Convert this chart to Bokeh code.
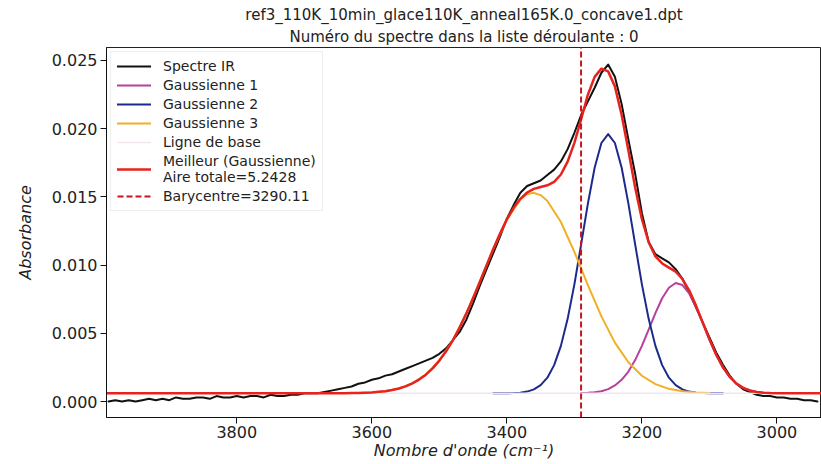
from bokeh.plotting import figure
from bokeh.models import Range1d, FixedTicker, PrintfTickFormatter, Title
from bokeh.embed import file_html
from bokeh.resources import INLINE

# ---- data ----
spec_wn = list(range(3990, 2930, -10))
spec_abs = [0.0000, 0.0001, 0.0000, 0.0001, 0.0000, 0.0001, 0.0002, 0.0001, 0.0002, 0.0001,
            0.0003, 0.0002, 0.0002, 0.0003, 0.0003, 0.0002, 0.0004, 0.0003, 0.0003, 0.0004,
            0.0003, 0.0004, 0.0004, 0.0003, 0.0005, 0.0004, 0.0004, 0.0005, 0.0005, 0.0006,
            0.0006, 0.0006, 0.0007, 0.0008, 0.0009, 0.0010, 0.0011, 0.0013, 0.0014, 0.0016,
            0.0017, 0.0019, 0.0020, 0.0022, 0.0024, 0.0026, 0.0028, 0.0030, 0.0032, 0.0035,
            0.0039, 0.0045, 0.0051, 0.0060, 0.0072, 0.0085, 0.0097, 0.0109, 0.0121, 0.0134,
            0.0144, 0.0153, 0.0158, 0.0160, 0.0162, 0.0166, 0.0170, 0.0176, 0.0185, 0.0197,
            0.0210, 0.0220, 0.0230, 0.0241, 0.0247, 0.0238, 0.0218, 0.0192, 0.0167, 0.0138,
            0.0117, 0.0108, 0.0105, 0.0102, 0.0097, 0.0090, 0.0080, 0.0069, 0.0058, 0.0047,
            0.0036, 0.0027, 0.0019, 0.0013, 0.0009, 0.0007, 0.0005, 0.0004, 0.0004, 0.0003,
            0.0003, 0.0002, 0.0002, 0.0001, 0.0001, 0.0000]

g1_wn = [3290, 3280, 3270, 3260, 3250, 3240, 3230, 3220, 3210, 3200,
         3190, 3180, 3170, 3160, 3150, 3140, 3130, 3120, 3110, 3100,
         3090, 3080, 3070, 3060, 3050, 3040, 3030, 3020, 3010]
g1_abs = [0.00062, 0.00064, 0.00068, 0.00076, 0.00091, 0.00118, 0.00159, 0.00220, 0.00304, 0.00408,
          0.00527, 0.00648, 0.00757, 0.00834, 0.00869, 0.00854, 0.00792, 0.00694, 0.00576, 0.00454,
          0.00343, 0.00251, 0.00181, 0.00132, 0.00100, 0.00081, 0.00070, 0.00065, 0.00062]

g2_wn = [3420, 3400, 3390, 3380, 3370, 3360, 3350, 3340, 3330, 3320, 3310,
         3300, 3290, 3280, 3270, 3260, 3250, 3240, 3230, 3220, 3210,
         3200, 3190, 3180, 3170, 3160, 3150, 3140, 3130, 3120, 3110, 3100, 3080]
g2_abs = [0.00060, 0.00061, 0.00062, 0.00065, 0.00073, 0.00089, 0.00120, 0.00175, 0.00267, 0.00408, 0.00606,
          0.00859, 0.01152, 0.01451, 0.01714, 0.01895, 0.01960, 0.01895, 0.01714, 0.01451, 0.01152,
          0.00859, 0.00606, 0.00408, 0.00267, 0.00175, 0.00120, 0.00089, 0.00073, 0.00065, 0.00062, 0.00061, 0.00060]

g3_wn = [3620, 3600, 3580, 3560, 3540, 3520, 3500, 3480, 3460, 3440,
         3420, 3400, 3380, 3370, 3361, 3350, 3340, 3320, 3300, 3280,
         3260, 3240, 3220, 3200, 3180, 3160, 3140, 3120, 3100]
g3_abs = [0.00063, 0.00067, 0.00076, 0.00096, 0.00133, 0.00197, 0.00300, 0.00449, 0.00646, 0.00878,
          0.01120, 0.01334, 0.01481, 0.01519, 0.01530, 0.01513, 0.01470, 0.01316, 0.01097, 0.00854,
          0.00624, 0.00432, 0.00288, 0.00189, 0.00128, 0.00093, 0.00075, 0.00066, 0.00062]

base_wn = [3993, 2934]
base_abs = [0.0006, 0.0006]

fit_wn = [3993] + list(range(3700, 2990, -10)) + [2934]
fit_abs = [0.00060,
           0.00060, 0.00060, 0.00060, 0.00060, 0.00060, 0.00061, 0.00061, 0.00062, 0.00063, 0.00065,
           0.00067, 0.00071, 0.00076, 0.00084, 0.00096, 0.00111, 0.00133, 0.00161, 0.00197, 0.00243,
           0.00300, 0.00368, 0.00449, 0.00542, 0.00646, 0.00759, 0.00878, 0.01000, 0.01120, 0.01233,
           0.01335, 0.01420, 0.01486, 0.01532, 0.01559, 0.01573, 0.01585, 0.01610, 0.01664, 0.01758,
           0.01896, 0.02069, 0.02249, 0.02380, 0.02440, 0.02420, 0.02310, 0.02100, 0.01839, 0.01569,
           0.01336, 0.01168, 0.01064, 0.01012, 0.00982, 0.00952, 0.00898, 0.00815, 0.00705, 0.00580,
           0.00457, 0.00343, 0.00251, 0.00181, 0.00132, 0.00100, 0.00081, 0.00070, 0.00065, 0.00062,
           0.00061,
           0.00060]

barycentre = 3290.11
aire_totale = 5.2428
x_ticks = [3000, 3200, 3400, 3600, 3800]
y_ticks = [0.000, 0.005, 0.010, 0.015, 0.020, 0.025]
x_lo, x_hi = 3993, 2934
y_lo, y_hi = -0.00117, 0.02595

title1 = "ref3_110K_10min_glace110K_anneal165K.0_concave1.dpt"
title2 = "Numéro du spectre dans la liste déroulante : 0"

FONT = "DejaVu Sans"

p = figure(width=821, height=464, output_backend="svg", toolbar_location=None,
           x_range=Range1d(x_lo, x_hi), y_range=Range1d(y_lo, y_hi),
           min_border_left=106, min_border_right=0, min_border_top=47, min_border_bottom=47)
p.title = None
p.add_layout(Title(text=title2, align="center", text_font=FONT, text_font_size="15px",
                   text_font_style="normal", text_color="#222222", standoff=4, offset=4), "above")
p.add_layout(Title(text=title1, align="center", text_font=FONT, text_font_size="15px",
                   text_font_style="normal", text_color="#222222", standoff=0, offset=4), "above")

p.xgrid.visible = False
p.ygrid.visible = False
p.background_fill_color = "white"
p.border_fill_color = "white"
p.outline_line_color = "#222222"
p.outline_line_width = 1

lw = dict(line_join="round", line_cap="round")
p.line(spec_wn, spec_abs, color="#111111", line_width=2, legend_label="Spectre IR", **lw)
p.line(g1_wn, g1_abs, color="#b8409c", line_width=2, legend_label="Gaussienne 1", **lw)
p.line(g2_wn, g2_abs, color="#1c2a8c", line_width=2, legend_label="Gaussienne 2", **lw)
p.line(g3_wn, g3_abs, color="#f0b024", line_width=2, legend_label="Gaussienne 3", **lw)
p.line(base_wn, base_abs, color="#f4e4ef", line_width=1.5, legend_label="Ligne de base")
p.line(fit_wn, fit_abs, color="#e8221c", line_width=2.5,
       legend_label="Meilleur (Gaussienne)\nAire totale=%.4f" % aire_totale, **lw)
p.line([barycentre, barycentre], [y_lo, y_hi], color="#c8141c", line_width=2, line_dash="6 3",
       legend_label="Barycentre=%.2f" % barycentre)

for ax in (p.xaxis[0], p.yaxis[0]):
    ax.axis_line_color = "#111111"
    ax.major_tick_line_color = "#111111"
    ax.major_tick_out = 6
    ax.major_tick_in = 0
    ax.minor_tick_line_color = None
    ax.major_label_text_font = FONT
    ax.major_label_text_font_size = "16px"
    ax.major_label_text_color = "#222222"
    ax.axis_label_text_font = FONT
    ax.axis_label_text_font_size = "16px"
    ax.axis_label_text_font_style = "italic"
    ax.axis_label_text_color = "#222222"

p.xaxis.ticker = FixedTicker(ticks=x_ticks)
p.yaxis.ticker = FixedTicker(ticks=y_ticks)
p.yaxis.formatter = PrintfTickFormatter(format="%.3f")
p.xaxis.axis_label = "Nombre d'onde (cm⁻¹)"
p.yaxis.axis_label = "Absorbance"
p.xaxis.major_label_standoff = 2
p.xaxis.axis_label_standoff = 0
p.yaxis.major_label_standoff = 3
p.yaxis.axis_label_standoff = 14

lg = p.legend[0]
lg.location = "top_left"
lg.margin = 4
lg.padding = 6
lg.spacing = 3
lg.glyph_width = 34
lg.glyph_height = 16
lg.label_height = 16
lg.label_standoff = 12
lg.label_text_font = FONT
lg.label_text_font_size = "14px"
lg.label_text_color = "#222222"
lg.background_fill_color = "white"
lg.background_fill_alpha = 0.85
lg.border_line_color = "#dddddd"
lg.border_line_width = 1

open("out.html", "w").write(file_html(p, INLINE))
